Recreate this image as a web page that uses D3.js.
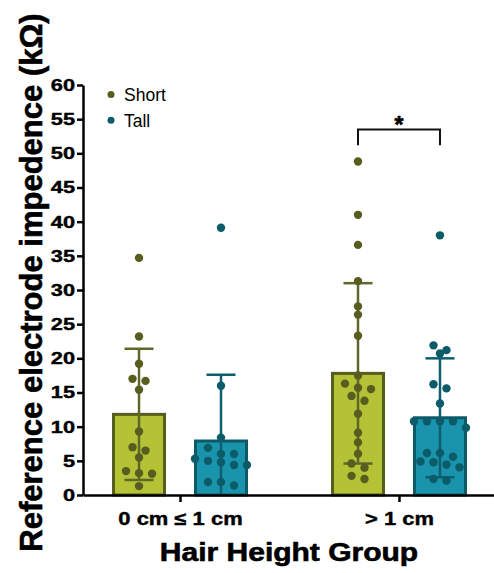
<!DOCTYPE html>
<html lang="en">
<head>
<meta charset="UTF-8">
<title>Reference electrode impedence by hair height</title>
<script src="https://d3js.org/d3.v7.min.js"></script>
<style>
  body { margin: 0; background: #fff; }
  svg { display: block; font-family: "Liberation Sans", Arial, sans-serif; }
  .axis path, .axis line { stroke: #000; stroke-width: 2.5; }
  .axis text { font-weight: bold; fill: #000; stroke: #000; stroke-width: 0.4; }
  .title { font-weight: bold; stroke: #000; stroke-width: 0.6; }
</style>
</head>
<body>
<svg id="chart" width="494" height="573"></svg>
<script>
// data
const groups = ["0 cm \u2264 1 cm", "> 1 cm"];
const series = ["Short", "Tall"];
const yTicks = [0, 5, 10, 15, 20, 25, 30, 35, 40, 45, 50, 55, 60];

const shortPoints = [
  [34.7, 23.2, 19.2, 17.0, 16.7, 15.4, 9.3, 7.0, 6.5, 5.5, 3.5, 3.2, 3.1, 1.3],
  [48.8, 41.0, 36.6, 31.3, 27.6, 26.4, 23.3, 17.5, 16.3, 15.7, 15.5, 14.5, 13.8, 11.9, 9.1, 7.7, 6.05, 4.6, 4.0, 2.8, 2.35]
];
const tallPoints = [
  [39.1, 16.0, 8.4, 6.9, 6.0, 6.0, 5.3, 5.0, 4.8, 4.4, 4.4, 1.9, 1.9, 1.4],
  [38.0, 21.9, 21.2, 20.7, 16.2, 15.6, 13.4, 10.8, 10.8, 10.8, 10.8, 9.85, 6.15, 6.15, 5.6, 4.9, 4.8, 4.45, 4.05, 2.35, 2.1]
];
const shortMean = [11.8, 17.8];
const shortSD = [9.6, 13.2];
const tallMean = [7.9, 11.3];
const tallSD = [9.7, 8.7];

const colors = {
  Short: { fill: "#b4c236", stroke: "#565d1e", dot: "#585d1f", err: "#5f662a" },
  Tall:  { fill: "#1a93ad", stroke: "#0c5967", dot: "#0c5b69", err: "#0e5f6e" }
};

const svg = d3.select("#chart");

const y = d3.scaleLinear().domain([0, 60]).range([495, 85]);
const x0 = d3.scalePoint().domain(groups).range([83, 496]).padding(0.443);
const x1 = d3.scaleBand().domain(series).range([-68, 68]).paddingInner(0.341);

const rows = [];
groups.forEach((g, i) => {
  series.forEach(s => {
    rows.push({
      group: g, series: s,
      mean: s === "Short" ? shortMean[i] : tallMean[i],
      sd: s === "Short" ? shortSD[i] : tallSD[i],
      points: s === "Short" ? shortPoints[i] : tallPoints[i]
    });
  });
});
const cx = d => x0(d.group) + x1(d.series) + x1.bandwidth() / 2;

// bars
svg.append("g").selectAll("rect")
  .data(rows).join("rect")
  .attr("x", d => x0(d.group) + x1(d.series) + 1.5)
  .attr("width", x1.bandwidth() - 3)
  .attr("y", d => y(d.mean))
  .attr("height", d => y(0) - y(d.mean))
  .attr("fill", d => colors[d.series].fill)
  .attr("stroke", d => colors[d.series].stroke)
  .attr("stroke-width", 3);

// SD error bars
const err = svg.append("g").selectAll("g").data(rows).join("g")
  .attr("stroke", d => colors[d.series].err)
  .attr("stroke-width", 2.5);
err.append("line")
  .attr("x1", cx).attr("x2", cx)
  .attr("y1", d => y(Math.max(0, d.mean - d.sd)))
  .attr("y2", d => y(d.mean + d.sd));
err.append("line")
  .attr("x1", d => cx(d) - 14.5).attr("x2", d => cx(d) + 14.5)
  .attr("y1", d => y(d.mean + d.sd)).attr("y2", d => y(d.mean + d.sd));
err.filter(d => d.mean - d.sd > 0).append("line")
  .attr("x1", d => cx(d) - 14.5).attr("x2", d => cx(d) + 14.5)
  .attr("y1", d => y(d.mean - d.sd)).attr("y2", d => y(d.mean - d.sd));

// scatter dots, spread into rows where they overlap
const r = 4.2, step = 13, near = 8;
const dots = [];
rows.forEach(d => {
  const sorted = d.points.map(v => ({ v, py: y(v) })).sort((a, b) => a.py - b.py);
  let i = 0;
  while (i < sorted.length) {
    let j = i;
    while (j + 1 < sorted.length && sorted[j + 1].py - sorted[i].py < near) j++;
    const n = j - i + 1;
    for (let k = i; k <= j; k++) {
      dots.push({ series: d.series, x: cx(d) + (k - i - (n - 1) / 2) * step, y: sorted[k].py });
    }
    i = j + 1;
  }
});
svg.append("g").selectAll("circle")
  .data(dots).join("circle")
  .attr("cx", d => d.x).attr("cy", d => d.y).attr("r", r)
  .attr("fill", d => colors[d.series].dot);

// axes
const yAxis = svg.append("g").attr("class", "axis")
  .attr("transform", "translate(83,0)")
  .call(d3.axisLeft(y).tickValues(yTicks).tickSize(6).tickSizeOuter(0).tickPadding(2));
yAxis.attr("font-family", null);
yAxis.selectAll("text")
  .attr("font-size", 17)
  .attr("x", null)
  .attr("transform", "translate(-8,0) scale(1.28,1)");

const xAxis = svg.append("g").attr("class", "axis")
  .attr("transform", "translate(0,495)")
  .call(d3.axisBottom(x0).tickSize(7).tickSizeOuter(0));
xAxis.attr("font-family", null);
xAxis.selectAll("text")
  .attr("font-size", 18)
  .attr("y", null).attr("dy", null)
  .attr("transform", "translate(0,30) scale(1.22,1)");

// axis titles
svg.append("text").attr("class", "title")
  .attr("transform", "translate(41.5,282.5) rotate(-90)")
  .attr("text-anchor", "middle")
  .attr("font-size", 31)
  .text("Reference electrode impedence (k\u03a9)");

svg.append("text").attr("class", "title")
  .attr("transform", "translate(289,561) scale(1.2,1)")
  .attr("text-anchor", "middle")
  .attr("font-size", 25)
  .text("Hair Height Group");

// legend
const legend = svg.append("g").selectAll("g")
  .data(series).join("g")
  .attr("transform", (d, i) => `translate(111,${94.5 + i * 25.8})`);
legend.append("circle").attr("r", 3.5).attr("fill", d => colors[d].dot);
legend.append("text")
  .attr("x", 13).attr("dy", "0.36em")
  .attr("font-size", 17.5)
  .text(d => d);

// significance bracket
const sigGroup = "> 1 cm";
const bx1 = x0(sigGroup) + x1("Short") + x1.bandwidth() / 2;
const bx2 = x0(sigGroup) + x1("Tall") + x1.bandwidth() / 2;
svg.append("path")
  .attr("d", `M${bx1},${y(51.2)}V${y(53.5)}H${bx2}V${y(51.2)}`)
  .attr("fill", "none").attr("stroke", "#111").attr("stroke-width", 2);
svg.append("text").attr("class", "title")
  .attr("x", (bx1 + bx2) / 2).attr("y", y(53.5) + 4)
  .attr("text-anchor", "middle")
  .attr("font-size", 23)
  .text("*");
</script>
</body>
</html>
